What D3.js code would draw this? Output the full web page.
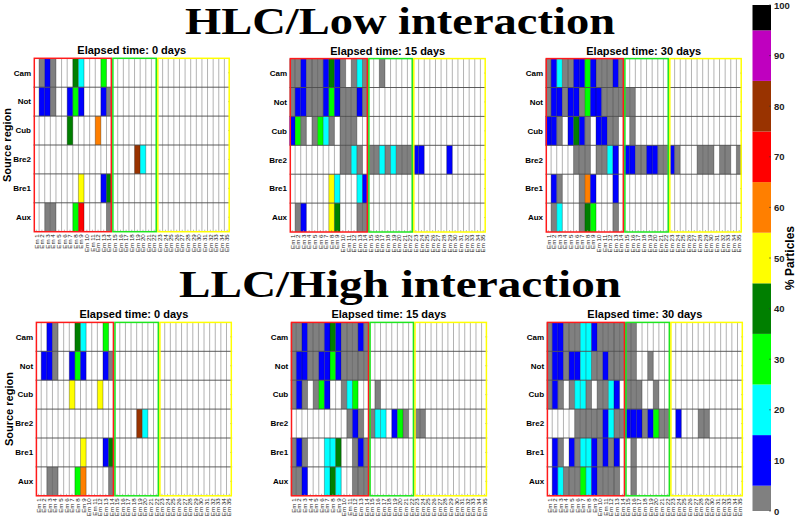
<!DOCTYPE html>
<html>
<head>
<meta charset="utf-8">
<script src="https://cdn.jsdelivr.net/npm/d3@7"></script>
<style>
  body { margin: 0; background: #fff; }
  svg { display: block; font-family: "Liberation Sans", Arial, sans-serif; }
</style>
</head>
<body>
<div id="chart"></div>
<script>
var svgWidth = 800;
var svgHeight = 522;

// source regions (rows, top to bottom) and emitters (columns)
var regions = ["Cam", "Not", "Cub", "Bre2", "Bre1", "Aux"];
var emitters = ["Em 1", "Em 2", "Em 3", "Em 4", "Em 5", "Em 6", "Em 7", "Em 8", "Em 9", "Em 10",
  "Em 11", "Em 12", "Em 13", "Em 14", "Em 15", "Em 16", "Em 17", "Em 18", "Em 19", "Em 20",
  "Em 21", "Em 22", "Em 23", "Em 24", "Em 25", "Em 26", "Em 27", "Em 28", "Em 29", "Em 30",
  "Em 31", "Em 32", "Em 33", "Em 34", "Em 35"];

// emitter groups outlined on every panel (first and last emitter of each)
var groupStart = ["Em 1", "Em 15", "Em 23"];
var groupEnd = ["Em 14", "Em 22", "Em 35"];
var groupColors = ["#ff1a1a", "#1ee61e", "#ffff00"];

var figureTitles = ["HLC/Low interaction", "LLC/High interaction"];
var panelTitles = ["Elapsed time: 0 days", "Elapsed time: 15 days", "Elapsed time: 30 days"];

// % particles, one row per source region, 35 emitters each (0 = none)
var hlc0 = [
  [0,2,10,2,0,0,0,40,20,0,0,0,30,0, 0,0,0,0,0,0,0,0, 0,0,0,0,0,0,0,0,0,0,0,0,0],
  [0,10,10,2,0,0,10,30,10,0,0,0,10,2, 0,0,0,0,0,0,0,0, 0,0,0,0,0,0,0,0,0,0,0,0,0],
  [0,0,0,0,0,0,40,0,0,0,0,60,0,0, 0,0,0,0,0,0,0,0, 0,0,0,0,0,0,0,0,0,0,0,0,0],
  [0,0,0,0,0,0,0,0,0,0,0,0,0,0, 0,0,0,0,80,20,0,0, 0,0,0,0,0,0,0,0,0,0,0,0,0],
  [0,0,0,0,0,0,0,0,50,0,0,0,10,40, 0,0,0,0,0,0,0,0, 0,0,0,0,0,0,0,0,0,0,0,0,0],
  [0,0,2,2,0,0,0,30,70,0,0,0,0,2, 0,0,0,0,0,0,0,0, 0,0,0,0,0,0,0,0,0,0,0,0,0]
];
var hlc15 = [
  [2,2,10,2,2,2,10,40,10,2,0,2,20,2, 0,0,2,0,0,0,0,0, 0,0,0,0,0,0,0,0,0,0,0,0,0],
  [2,10,10,2,2,2,10,30,10,2,2,2,10,2, 0,0,0,0,0,0,0,0, 0,0,0,0,0,0,0,0,0,0,0,0,0],
  [10,30,2,0,2,30,20,2,0,2,2,2,0,0, 0,0,0,0,0,0,0,0, 0,0,0,0,0,0,0,0,0,0,0,0,0],
  [0,0,0,0,0,0,0,0,0,2,2,20,2,0, 2,2,20,2,20,2,2,2, 10,10,0,0,0,0,10,0,0,0,0,0,0],
  [0,0,0,0,0,0,0,50,20,0,0,0,20,10, 0,0,0,0,0,0,0,0, 0,0,0,0,0,0,0,0,0,0,0,0,0],
  [0,2,10,0,0,0,0,50,40,0,0,0,2,2, 0,0,0,0,0,0,0,0, 0,0,0,0,0,0,0,0,0,0,0,0,0]
];
var hlc30 = [
  [2,10,20,2,2,10,10,30,10,2,2,2,10,2, 0,0,0,0,0,0,0,0, 0,0,0,0,0,0,0,0,0,0,0,0,0],
  [2,10,10,2,10,10,2,30,10,10,2,2,2,2, 2,2,0,0,0,0,0,0, 0,0,0,0,0,0,0,0,0,0,0,0,0],
  [10,10,2,0,10,40,10,2,0,10,10,2,2,0, 0,2,0,0,0,0,0,0, 0,0,0,0,0,0,0,0,0,0,0,0,0],
  [0,0,0,0,0,2,2,2,0,2,2,20,10,0, 10,10,2,2,10,10,2,2, 10,2,0,0,0,2,2,2,0,2,2,0,2],
  [0,10,2,0,0,0,2,60,10,0,0,0,10,0, 0,0,0,0,0,0,0,0, 0,0,0,0,0,0,0,0,0,0,0,0,0],
  [0,2,20,0,0,0,2,40,30,0,0,0,2,0, 0,0,0,0,0,0,0,0, 0,0,0,0,0,0,0,0,0,0,0,0,0]
];
var llc0 = [
  [0,0,10,2,0,0,0,40,20,0,0,0,30,0, 0,0,0,0,0,0,0,0, 0,0,0,0,0,0,0,0,0,0,0,0,0],
  [0,10,10,2,0,0,10,30,10,0,0,0,10,2, 0,0,0,0,0,0,0,0, 0,0,0,0,0,0,0,0,0,0,0,0,0],
  [0,0,0,0,0,0,50,0,0,0,0,50,0,0, 0,0,0,0,0,0,0,0, 0,0,0,0,0,0,0,0,0,0,0,0,0],
  [0,0,0,0,0,0,0,0,0,0,0,0,0,0, 0,0,0,0,80,20,0,0, 0,0,0,0,0,0,0,0,0,0,0,0,0],
  [0,0,0,0,0,0,0,0,50,0,0,0,10,40, 0,0,0,0,0,0,0,0, 0,0,0,0,0,0,0,0,0,0,0,0,0],
  [0,0,2,2,0,0,0,30,60,0,0,0,0,2, 0,0,0,0,0,0,0,0, 0,0,0,0,0,0,0,0,0,0,0,0,0]
];
var llc15 = [
  [2,2,10,2,2,2,10,40,10,2,2,2,10,2, 0,0,0,0,0,0,0,0, 0,0,0,0,0,0,0,0,0,0,0,0,0],
  [2,10,10,2,2,10,10,30,10,2,2,2,2,2, 0,0,0,0,0,0,0,0, 0,0,0,0,0,0,0,0,0,0,0,0,0],
  [2,10,2,0,2,30,10,0,0,2,20,30,0,0, 0,2,0,0,0,0,0,0, 0,0,0,0,0,0,0,0,0,0,0,0,0],
  [0,0,0,0,0,0,0,0,0,0,2,10,2,0, 2,20,20,0,10,30,2,0, 2,2,0,0,0,0,0,0,0,0,0,0,0],
  [2,10,2,0,0,0,20,20,40,0,0,2,10,2, 0,0,0,0,0,0,0,0, 0,0,0,0,0,0,0,0,0,0,0,0,0],
  [2,2,10,0,0,0,20,40,20,0,0,2,2,2, 0,0,0,0,0,0,0,0, 0,0,0,0,0,0,0,0,0,0,0,0,0]
];
var llc30 = [
  [2,10,10,2,2,2,20,20,10,2,2,2,2,2, 2,2,0,0,0,0,0,0, 0,0,0,0,0,0,0,0,0,0,0,0,0],
  [2,10,10,2,10,10,20,20,2,2,10,2,2,2, 2,2,0,0,2,0,0,0, 0,0,0,0,0,0,0,0,0,0,0,0,0],
  [2,10,2,0,2,20,20,2,0,2,2,20,10,0, 2,2,2,0,0,2,0,0, 0,0,0,0,0,0,0,0,0,0,0,0,0],
  [0,0,0,0,0,2,2,2,2,2,10,20,2,2, 10,10,10,2,10,30,2,2, 0,10,0,0,0,2,2,0,0,0,0,0,0],
  [0,10,2,0,10,2,20,20,10,2,10,2,10,0, 0,2,0,0,0,0,0,0, 0,0,0,0,0,0,0,0,0,0,0,0,0],
  [0,10,20,2,2,2,30,20,10,2,2,2,2,0, 0,2,0,0,0,0,0,0, 0,0,0,0,0,0,0,0,0,0,0,0,0]
];

// discrete colour map for % particles
var binEdges = [5, 15, 25, 35, 45, 55, 65, 75, 85, 95];
var binColors = ["#808080", "#0000ff", "#00ffff", "#00ff00", "#007f00", "#ffff00",
  "#ff7f00", "#ff0000", "#993300", "#bf00bf", "#000000"];
var cbTicks = [0, 10, 20, 30, 40, 50, 60, 70, 80, 90, 100];

var color = d3.scaleThreshold().domain(binEdges).range(binColors);

var svg = d3.select("#chart")
  .append("svg")
  .attr("width", svgWidth)
  .attr("height", svgHeight);

var panelW = 196.5;
var panelH = 173.4;

var panels = [
  {data: hlc0, left: 33.5, top: 58.3, title: panelTitles[0], ylab: true},
  {data: hlc15, left: 289.5, top: 58.6, title: panelTitles[1]},
  {data: hlc30, left: 545.5, top: 58.6, title: panelTitles[2]},
  {data: llc0, left: 35.6, top: 322.4, title: panelTitles[0], ylab: true},
  {data: llc15, left: 290.7, top: 322.4, title: panelTitles[1]},
  {data: llc30, left: 546.6, top: 322.4, title: panelTitles[2]}
];

var x = d3.scaleBand().domain(emitters).range([0, panelW]);
var y = d3.scaleBand().domain(regions).range([0, panelH]);

// big figure titles
svg.selectAll("text.figTitle")
  .data(figureTitles)
  .enter()
  .append("text")
  .attr("class", "figTitle")
  .attr("x", 400)
  .attr("y", (d, i) => i === 0 ? 34 : 297)
  .attr("text-anchor", "middle")
  .attr("textLength", (d, i) => i === 0 ? 430 : 442)
  .attr("lengthAdjust", "spacingAndGlyphs")
  .style("font-family", "'Liberation Serif', 'Times New Roman', serif")
  .style("font-weight", "bold")
  .style("font-size", "37px")
  .text(d => d);

panels.forEach(function(p) {
  var g = svg.append("g")
    .attr("transform", `translate(${p.left}, ${p.top})`);

  var cells = [];
  p.data.forEach(function(row, ri) {
    row.forEach(function(v, ci) {
      if (v > 0) cells.push({r: regions[ri], e: emitters[ci], v: v});
    });
  });

  g.selectAll("rect.cell")
    .data(cells)
    .enter()
    .append("rect")
    .attr("class", "cell")
    .attr("x", d => x(d.e))
    .attr("y", d => y(d.r))
    .attr("width", x.bandwidth())
    .attr("height", y.bandwidth())
    .attr("fill", d => color(d.v));

  // column separators
  g.selectAll("line.vgrid")
    .data(emitters.slice(1))
    .enter()
    .append("line")
    .attr("x1", d => x(d))
    .attr("x2", d => x(d))
    .attr("y1", 0)
    .attr("y2", panelH)
    .attr("stroke", "#000")
    .attr("stroke-opacity", 0.3)
    .attr("stroke-width", 1);

  // row separators
  g.selectAll("line.hgrid")
    .data(regions.slice(1))
    .enter()
    .append("line")
    .attr("x1", 0)
    .attr("x2", panelW)
    .attr("y1", d => y(d))
    .attr("y2", d => y(d))
    .attr("stroke", "#4a4a4a")
    .attr("stroke-width", 0.9);

  // small ticks at row centres
  g.selectAll("line.ytick")
    .data(regions)
    .enter()
    .append("line")
    .attr("x1", panelW - 2)
    .attr("x2", panelW)
    .attr("y1", d => y(d) + y.bandwidth() / 2)
    .attr("y2", d => y(d) + y.bandwidth() / 2)
    .attr("stroke", "#888")
    .attr("stroke-width", 0.6);

  // column ticks along the bottom
  g.selectAll("line.xtick")
    .data(emitters)
    .enter()
    .append("line")
    .attr("x1", d => x(d) + x.bandwidth() / 2)
    .attr("x2", d => x(d) + x.bandwidth() / 2)
    .attr("y1", panelH - 2)
    .attr("y2", panelH)
    .attr("stroke", "#888")
    .attr("stroke-width", 0.6);

  // group outlines
  groupStart.forEach(function(s, i) {
    var x0 = x(s) + 0.8;
    var x1 = x(groupEnd[i]) + x.bandwidth() - 0.8;
    g.append("rect")
      .attr("x", x0)
      .attr("y", 0)
      .attr("width", x1 - x0)
      .attr("height", panelH)
      .attr("fill", "none")
      .attr("stroke", groupColors[i])
      .attr("stroke-width", 1.5);
  });

  // region labels
  g.selectAll("text.ylab")
    .data(regions)
    .enter()
    .append("text")
    .attr("x", -2.5)
    .attr("y", d => y(d) + y.bandwidth() / 2)
    .attr("dy", "0.35em")
    .attr("text-anchor", "end")
    .style("font-size", "8px")
    .style("font-weight", "bold")
    .text(d => d);

  // emitter labels
  g.selectAll("text.xlab")
    .data(emitters)
    .enter()
    .append("text")
    .attr("transform", d => `translate(${x(d) + x.bandwidth() / 2 + 2.2}, ${panelH + 2.5}) rotate(-90)`)
    .attr("text-anchor", "end")
    .style("font-size", "6.2px")
    .attr("fill", "#222")
    .text(d => d);

  g.append("text")
    .attr("x", panelW / 2)
    .attr("y", -4)
    .attr("text-anchor", "middle")
    .style("font-size", "11px")
    .style("font-weight", "bold")
    .text(p.title);

  if (p.ylab) {
    g.append("text")
      .attr("transform", `translate(-23, ${panelH / 2}) rotate(-90)`)
      .attr("text-anchor", "middle")
      .style("font-size", "11px")
      .style("font-weight", "bold")
      .text("Source region");
  }
});

// colour bar
var cbX = 752.5;
var cbW = 18.5;
var cbScale = d3.scaleLinear().domain([0, 100]).range([511, 5]);
var cbEdges = [0].concat(binEdges).concat([100]);

var cb = svg.append("g");
cb.selectAll("rect")
  .data(binColors)
  .enter()
  .append("rect")
  .attr("x", cbX)
  .attr("y", (d, i) => cbScale(cbEdges[i + 1]))
  .attr("width", cbW)
  .attr("height", (d, i) => cbScale(cbEdges[i]) - cbScale(cbEdges[i + 1]))
  .attr("fill", d => d);

var cbAxis = cb.append("g")
  .attr("transform", `translate(${cbX + cbW}, 0)`)
  .call(d3.axisRight(cbScale).tickValues(cbTicks).tickSize(0).tickPadding(3));
cbAxis.select(".domain").remove();
cbAxis.selectAll("text")
  .style("font-family", "'Liberation Sans', Arial, sans-serif")
  .style("font-size", "9.5px")
  .style("font-weight", "bold")
  .attr("fill", "#222");

cb.selectAll("line.cbtick")
  .data(cbTicks)
  .enter()
  .append("line")
  .attr("x1", cbX + cbW - 2)
  .attr("x2", cbX + cbW)
  .attr("y1", d => cbScale(d))
  .attr("y2", d => cbScale(d))
  .attr("stroke", "#333")
  .attr("stroke-width", 0.6);

svg.append("text")
  .attr("transform", "translate(794, 258) rotate(-90)")
  .attr("text-anchor", "middle")
  .style("font-size", "12px")
  .style("font-weight", "bold")
  .text("% Particles");
</script>
</body>
</html>
